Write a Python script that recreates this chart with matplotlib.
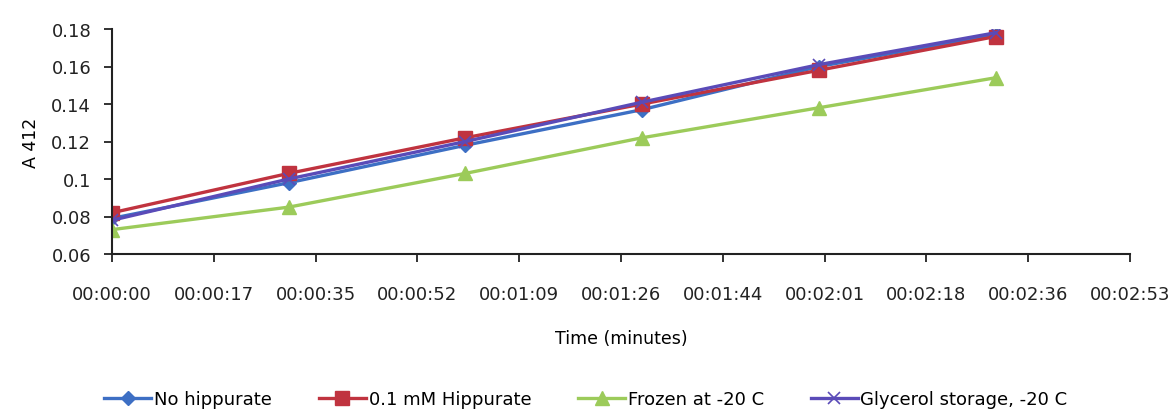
import matplotlib
matplotlib.use("Agg")
import matplotlib.pyplot as plt

plt.rcParams['font.family'] = ['DejaVu Sans']

time_s = [0, 30, 60, 90, 120, 150]
no_hipp = [0.079, 0.098, 0.118, 0.137, 0.160, 0.177]
hipp_01 = [0.082, 0.103, 0.122, 0.140, 0.158, 0.176]
frozen = [0.073, 0.085, 0.103, 0.122, 0.138, 0.154]
glycerol = [0.078, 0.100, 0.120, 0.141, 0.161, 0.178]

x_tick_labels = ["00:00:00", "00:00:17", "00:00:35", "00:00:52", "00:01:09",
                 "00:01:26", "00:01:44", "00:02:01", "00:02:18", "00:02:36", "00:02:53"]
y_ticks = [0.06, 0.08, 0.1, 0.12, 0.14, 0.16, 0.18]
y_tick_labels = ["0.06", "0.08", "0.1", "0.12", "0.14", "0.16", "0.18"]

fig = plt.figure(figsize=(11.72, 4.10), dpi=100)
ax = fig.add_axes([112/1172, 1-255/410, (1130-112)/1172, (255-30)/410])

ax.plot(time_s, no_hipp, color='#3d6fc4', lw=2.4, marker='D', ms=7, label='No hippurate')
ax.plot(time_s, hipp_01, color='#c0333f', lw=2.4, marker='s', ms=10, label='0.1 mM Hippurate')
ax.plot(time_s, frozen, color='#9ccb5a', lw=2.4, marker='^', ms=10, label='Frozen at -20 C')
ax.plot(time_s, glycerol, color='#5a4bb8', lw=2.4, marker='x', ms=8, mew=1.2, label='Glycerol storage, -20 C')

step = 172.8 / 10
ax.set_xlim(0, 172.8)
ax.set_xticks([i * step for i in range(len(x_tick_labels))])
ax.set_xticklabels(x_tick_labels, fontsize=13)
ax.set_ylim(0.06, 0.18)
ax.set_yticks(y_ticks)
ax.set_yticklabels(y_tick_labels, fontsize=13)

for s in ['top', 'right']:
    ax.spines[s].set_visible(False)
for s in ['left', 'bottom']:
    ax.spines[s].set_linewidth(1.5)
    ax.spines[s].set_color('#222222')
ax.tick_params(axis='both', direction='out', length=6, width=1.3, colors='#222222')
ax.tick_params(axis='x', pad=16)
ax.tick_params(axis='y', pad=9)

ax.set_xlabel('Time (minutes)', fontsize=12.5, labelpad=19)
ax.set_ylabel('A 412', fontsize=12.5, labelpad=8)

fig.legend(loc='center', bbox_to_anchor=(586/1172, 1-400/410), ncol=4, frameon=False,
           fontsize=13, handlelength=2.6, columnspacing=2.6, handletextpad=0.15)

fig.savefig('out.png', dpi=100)
